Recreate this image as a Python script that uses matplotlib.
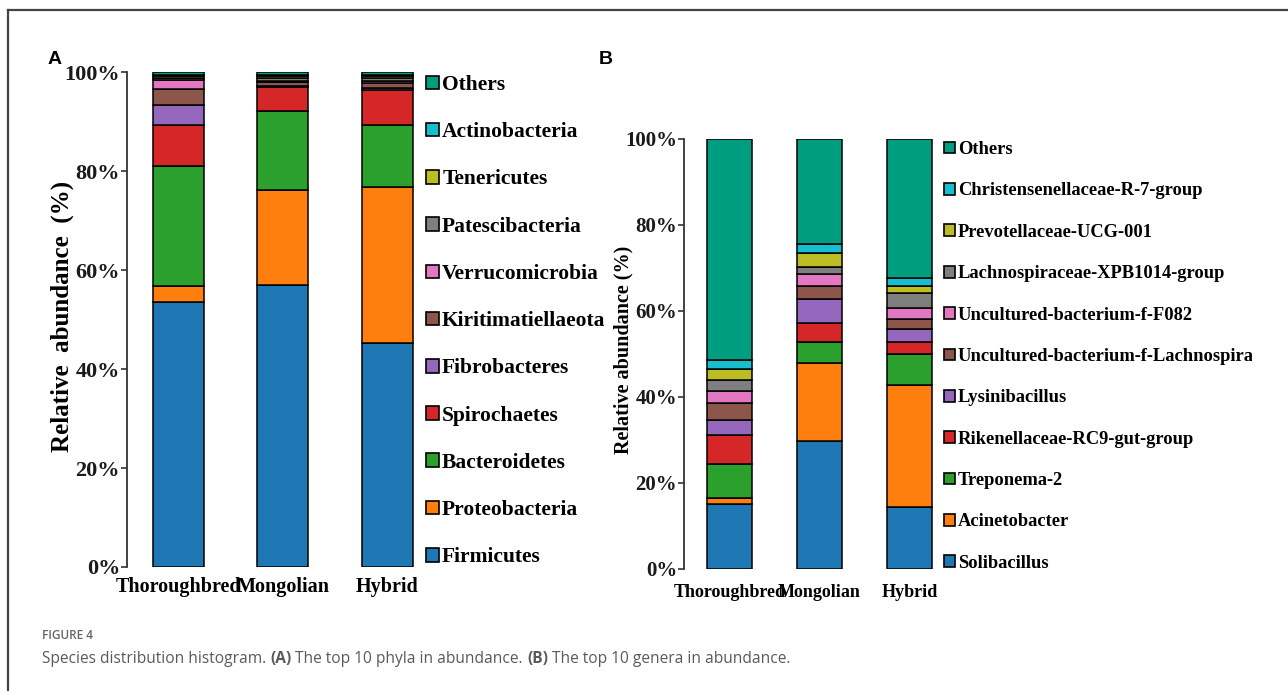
import matplotlib
matplotlib.use('Agg')
import matplotlib.pyplot as plt
from matplotlib.patches import Patch
from matplotlib.lines import Line2D
from matplotlib.transforms import Bbox
import numpy as np

# sample groups
groups = ['Thoroughbred', 'Mongolian', 'Hybrid']

# panel A: top 10 phyla (bottom -> top of the stack)
phyla = ['Firmicutes', 'Proteobacteria', 'Bacteroidetes', 'Spirochaetes', 'Fibrobacteres',
         'Kiritimatiellaeota', 'Verrucomicrobia', 'Patescibacteria', 'Tenericutes',
         'Actinobacteria', 'Others']
phyla_thoroughbred = [53.5, 3.3, 24.2, 8.3, 4.0, 3.3, 1.8, 0.4, 0.3, 0.3, 0.6]
phyla_mongolian = [57.0, 19.2, 15.9, 4.9, 0.2, 0.8, 0.2, 0.6, 0.3, 0.3, 0.6]
phyla_hybrid = [45.3, 31.5, 12.5, 7.1, 0.4, 1.0, 0.3, 0.7, 0.3, 0.3, 0.6]

# panel B: top 10 genera (bottom -> top of the stack)
genera = ['Solibacillus', 'Acinetobacter', 'Treponema-2', 'Rikenellaceae-RC9-gut-group',
          'Lysinibacillus', 'Uncultured-bacterium-f-Lachnospiraceae',
          'Uncultured-bacterium-f-F082', 'Lachnospiraceae-XPB1014-group',
          'Prevotellaceae-UCG-001', 'Christensenellaceae-R-7-group', 'Others']
genera_thoroughbred = [15.1, 1.4, 7.9, 6.7, 3.5, 3.9, 2.8, 2.6, 2.5, 2.1, 51.5]
genera_mongolian = [29.7, 18.1, 4.9, 4.6, 5.6, 3.0, 2.8, 1.6, 3.2, 2.1, 24.4]
genera_hybrid = [14.4, 28.5, 7.2, 2.6, 3.0, 2.5, 2.6, 3.5, 1.4, 2.0, 32.3]

colors = ['#1f77b4', '#ff7f0e', '#2ca02c', '#d62728', '#9467bd', '#8c564b',
          '#e377c2', '#7f7f7f', '#bcbd22', '#17becf', '#009e80']

serif = 'Liberation Serif'
W, H = 1288, 691
fig = plt.figure(figsize=(W / 100, H / 100), dpi=100)


def px_box(x0, y_top, x1, y_bot):
    # pixel box -> figure fraction rect
    return [x0 / W, 1 - y_bot / H, (x1 - x0) / W, (y_bot - y_top) / H]


def stacked(ax, labels, series, width, xlim, tick_fs, xlab_fs, xpad):
    data = np.array(series)  # groups x taxa
    x = np.arange(len(groups))
    bottom = np.zeros(len(groups))
    for i, name in enumerate(labels):
        ax.bar(x, data[:, i], width, bottom=bottom, color=colors[i],
               edgecolor='black', linewidth=1.1, label=name)
        bottom += data[:, i]
    ax.set_xlim(*xlim)
    ax.set_ylim(0, 100)
    ax.set_yticks(np.arange(0, 101, 20))
    ax.set_yticklabels([f'{v}%' for v in range(0, 101, 20)],
                       fontfamily=serif, fontweight='bold', fontsize=tick_fs, color='#1a1a1a')
    ax.set_xticks(x)
    ax.set_xticklabels(groups, fontfamily=serif, fontweight='bold', fontsize=xlab_fs)
    ax.tick_params(axis='x', length=0, pad=xpad)
    ax.tick_params(axis='y', length=4, width=1.2, color='#333333', pad=1)
    for s in ['top', 'right', 'bottom']:
        ax.spines[s].set_visible(False)
    ax.spines['left'].set_color('#333333')
    ax.spines['left'].set_linewidth(1.3)


# panel A
axA = fig.add_axes(px_box(127, 72, 127 + 2.99 * 104.5, 567))
stacked(axA, phyla, [phyla_thoroughbred, phyla_mongolian, phyla_hybrid],
        0.49, (-0.49, 2.5), 16, 14.5, 7.5)
fig.text(62 / W, 1 - 316 / H, 'Relative  abundance  (%)', rotation=90, ha='center',
         va='center', fontfamily=serif, fontweight='bold', fontsize=18)

# panel B
axB = fig.add_axes(px_box(684, 139, 684 + 3.006 * 90, 569))
stacked(axB, genera, [genera_thoroughbred, genera_mongolian, genera_hybrid],
        0.5, (-0.506, 2.5), 15, 13, 10.5)
fig.text(623 / W, 1 - 350 / H, 'Relative abundance (%)', rotation=90, ha='center',
         va='center', fontfamily=serif, fontweight='bold', fontsize=14.5)


# legends (top entry = top of stack)
def legend(labels, anchor, fs, spacing):
    handles = [Patch(facecolor=colors[i], edgecolor='black', linewidth=1.2, label=labels[i])
               for i in range(len(labels))][::-1]
    return fig.legend(handles=handles, loc='upper left', bbox_to_anchor=anchor, frameon=False,
                      handlelength=0.6, handleheight=0.6, handletextpad=0.15, borderpad=0,
                      borderaxespad=0, labelspacing=spacing,
                      prop={'family': serif, 'weight': 'bold', 'size': fs})

legend(phyla, (426 / W, 1 - 75 / H), 15.5, 1.265)
legB = legend(genera, (944 / W, 1 - 141 / H), 13.3, 1.32)
# the long genus name runs off the panel in the original
clip = Bbox.from_extents(0, 0, 1252, H)
for t in legB.get_texts():
    t.set_clip_box(clip)
    t.set_clip_on(True)

# panel letters
fig.text(48 / W, 1 - 64 / H, 'A', fontfamily='Liberation Sans', fontweight='bold', fontsize=14)
fig.text(599 / W, 1 - 64 / H, 'B', fontfamily='Liberation Sans', fontweight='bold', fontsize=14)

# frame lines (top and left edge of the figure box)
fig.add_artist(Line2D([8 / W, 1], [1 - 10 / H, 1 - 10 / H], color='#444444', lw=1.6))
fig.add_artist(Line2D([8 / W, 8 / W], [0, 1 - 10 / H], color='#444444', lw=1.6))

# caption
cap_color = '#5a5a5a'
fig.text(42 / W, 1 - 639 / H, 'FIGURE 4', fontfamily='Open Sans', fontweight='semibold',
         fontsize=8.5, color='#666666')

runs = [('Species distribution histogram. ', 'normal'), ('(A)', 'bold'),
        (' The top 10 phyla in abundance. ', 'normal'), ('(B)', 'bold'),
        (' The top 10 genera in abundance.', 'normal')]
fig.canvas.draw()
renderer = fig.canvas.get_renderer()
xpos = 42
for txt, wt in runs:
    t = fig.text(xpos / W, 1 - 663 / H, txt, fontfamily='Open Sans', fontweight=wt,
                 fontsize=11.2, color=cap_color)
    bb = t.get_window_extent(renderer=renderer)
    xpos += bb.width

fig.savefig('out.png', dpi=100)
